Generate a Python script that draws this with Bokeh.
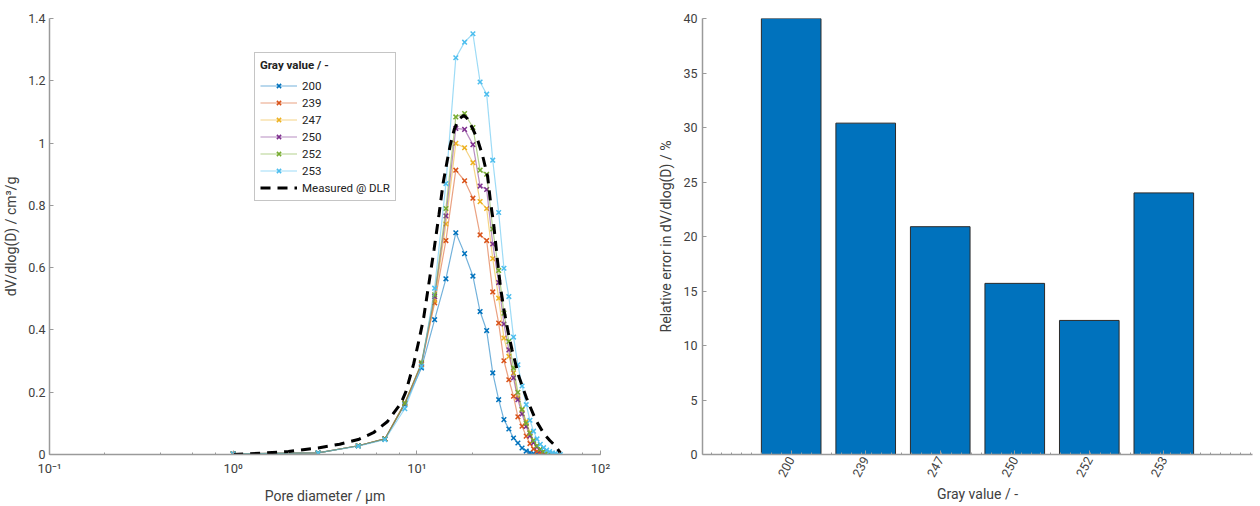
import math
from bokeh.plotting import figure
from bokeh.layouts import row
from bokeh.models import (LogTicker, FixedTicker, CustomJSTickFormatter, Range1d,
                          Legend, LegendItem)
from bokeh.embed import file_html
from bokeh.resources import INLINE

# ---------------- data ----------------
diameters = [1.0, 2.9, 4.8, 6.7, 8.6, 10.6, 12.5, 14.4, 16.3, 18.2, 20.2, 22.1,
             24.0, 25.9, 27.9, 29.8, 31.7, 33.6, 35.5, 37.4, 39.4, 41.3, 43.2,
             45.1, 47.0, 49.0, 50.9, 52.8, 54.7, 56.7, 58.6, 60.5]

gray_values = ["200", "239", "247", "250", "252", "253"]

dv_200 = [0.002, 0.005, 0.028, 0.050, 0.160, 0.278, 0.433, 0.564, 0.712, 0.645,
          0.573, 0.459, 0.398, 0.262, 0.176, 0.112, 0.082, 0.053, 0.037, 0.021,
          0.011, 0.006, 0.003, 0.002, 0.001, 0.0]
dv_239 = [0.002, 0.005, 0.028, 0.050, 0.165, 0.290, 0.487, 0.687, 0.913, 0.879,
          0.823, 0.705, 0.687, 0.522, 0.422, 0.301, 0.240, 0.187, 0.121, 0.091,
          0.059, 0.035, 0.018, 0.010, 0.005, 0.003, 0.001, 0.0]
dv_247 = [0.002, 0.005, 0.028, 0.050, 0.165, 0.290, 0.495, 0.740, 0.999, 0.985,
          0.937, 0.812, 0.790, 0.629, 0.502, 0.374, 0.315, 0.262, 0.182, 0.144,
          0.106, 0.070, 0.045, 0.028, 0.016, 0.009, 0.005, 0.002, 0.001]
dv_250 = [0.002, 0.005, 0.028, 0.050, 0.165, 0.292, 0.507, 0.766, 1.047, 1.044,
          0.995, 0.862, 0.851, 0.676, 0.552, 0.419, 0.336, 0.246, 0.176, 0.130,
          0.090, 0.060, 0.038, 0.024, 0.014, 0.008, 0.004, 0.002, 0.001]
dv_252 = [0.002, 0.005, 0.028, 0.050, 0.165, 0.295, 0.513, 0.790, 1.084, 1.095,
          1.050, 0.913, 0.900, 0.724, 0.591, 0.454, 0.363, 0.278, 0.200, 0.145,
          0.100, 0.068, 0.045, 0.028, 0.017, 0.010, 0.005, 0.002, 0.001]
dv_253 = [0.002, 0.005, 0.027, 0.048, 0.147, 0.283, 0.534, 0.870, 1.274, 1.324,
          1.351, 1.196, 1.157, 0.945, 0.777, 0.598, 0.507, 0.377, 0.288, 0.220,
          0.160, 0.110, 0.075, 0.050, 0.033, 0.022, 0.014, 0.009, 0.005, 0.003,
          0.001, 0.0]
series = [dv_200, dv_239, dv_247, dv_250, dv_252, dv_253]

meas_d = [1.0, 1.5, 2.0, 2.9, 3.8, 4.8, 5.8, 6.9, 8.2, 8.7, 9.6, 10.3, 10.9, 11.5,
          12.4, 13.2, 13.9, 14.6, 15.2, 16.0, 16.9, 18.0, 18.8, 20.0, 21.3, 22.8,
          24.3, 25.2, 26.2, 27.4, 28.5, 29.9, 31.5, 33.0, 35.9, 39.5, 44.3, 49.1,
          53.0, 56.9, 60.5]
meas_v = [0.0, 0.005, 0.010, 0.021, 0.033, 0.048, 0.070, 0.105, 0.165, 0.200,
          0.290, 0.370, 0.440, 0.530, 0.657, 0.770, 0.871, 0.940, 0.993, 1.045,
          1.076, 1.089, 1.079, 1.050, 1.015, 0.960, 0.892, 0.810, 0.740, 0.630,
          0.540, 0.460, 0.390, 0.336, 0.251, 0.182, 0.112, 0.067, 0.045, 0.027,
          0.005]

rel_error = [40.0, 30.4, 20.9, 15.7, 12.3, 24.0]

colors = ["#0072BD", "#D95319", "#EDB120", "#7E2F8E", "#77AC30", "#4DBEEE"]

# ---------------- styling ----------------
FONT = "Roboto"
AXIS_COL = "#9a9a9a"
TEXT_COL = "#404040"


def style_axis(ax, minor=False):
    ax.axis_line_color = AXIS_COL
    ax.axis_line_width = 1.5
    ax.major_tick_line_color = AXIS_COL
    ax.major_tick_in = 4
    ax.major_tick_out = 0
    if minor:
        ax.minor_tick_line_color = AXIS_COL
        ax.minor_tick_in = 2
        ax.minor_tick_out = 0
    else:
        ax.minor_tick_line_color = None
    ax.major_label_text_font = FONT
    ax.major_label_text_font_size = "12.5px"
    ax.major_label_text_color = TEXT_COL
    ax.axis_label_text_font = FONT
    ax.axis_label_text_font_size = "14px"
    ax.axis_label_text_font_style = "normal"
    ax.axis_label_text_color = TEXT_COL


# ---------------- left: pore size distribution ----------------
p1 = figure(width=620, height=506, x_axis_type="log",
            x_range=Range1d(0.1, 100), y_range=Range1d(0, 1.4),
            output_backend="svg", toolbar_location=None,
            min_border_left=49, min_border_right=20,
            min_border_top=18, min_border_bottom=51)
p1.outline_line_color = None
p1.grid.visible = False

p1.xaxis.ticker = LogTicker(mantissas=[1], desired_num_ticks=4)
p1.xaxis.formatter = CustomJSTickFormatter(code="""
const e = Math.round(Math.log10(tick));
const sup = {'-':'\u207b','0':'\u2070','1':'\u00b9','2':'\u00b2','3':'\u00b3'};
return '10' + String(e).split('').map(c => sup[c]).join('');
""")
p1.yaxis.ticker = FixedTicker(ticks=[0, 0.2, 0.4, 0.6, 0.8, 1.0, 1.2, 1.4])
p1.yaxis.formatter = CustomJSTickFormatter(code="return String(Math.round(tick*10)/10);")
style_axis(p1.xaxis[0], minor=True)
style_axis(p1.yaxis[0], minor=False)
p1.xaxis.major_label_text_font_size = "13px"
p1.xaxis.major_label_standoff = 6
p1.xaxis.axis_label_standoff = 9
p1.yaxis.major_label_standoff = 4
p1.yaxis.axis_label_standoff = 6
p1.xaxis.axis_label = "Pore diameter / µm"
p1.yaxis.axis_label = "dV/dlog(D) / cm³/g"

items = []
for name, vals, col in zip(gray_values, series, colors):
    xs = diameters[:len(vals)]
    lr = p1.line(xs, vals, line_color=col, line_width=1.2, line_alpha=0.55)
    sr = p1.scatter(xs, vals, marker="x", size=6.5, line_color=col, line_width=1.5)
    items.append(LegendItem(label=name, renderers=[lr, sr]))
mr = p1.line(meas_d, meas_v, line_color="black", line_width=3, line_dash="10 7")
items.append(LegendItem(label="Measured @ DLR", renderers=[mr]))

legend = Legend(items=items, location=(205, 253), title="Gray value / -",
                title_text_font=FONT, title_text_font_style="bold",
                title_text_font_size="11.5px", title_text_color="#222222",
                title_text_align="center",
                label_text_font=FONT, label_text_font_size="11.5px",
                label_text_color="#222222",
                glyph_width=37, glyph_height=15, label_height=15,
                spacing=2, padding=5, margin=0, label_standoff=5,
                title_standoff=6, border_line_color="#8c8c8c",
                border_line_width=1, background_fill_alpha=1)
p1.add_layout(legend)

# ---------------- right: relative error bars ----------------
positions = list(range(1, len(gray_values) + 1))
p2 = figure(width=640, height=506,
            x_range=Range1d(positions[0] - 1.19, positions[-1] + 1.19),
            y_range=Range1d(0, 40),
            output_backend="svg", toolbar_location=None,
            min_border_left=82, min_border_right=8,
            min_border_top=18, min_border_bottom=51)
p2.outline_line_color = None
p2.grid.visible = False

p2.vbar(x=positions, top=rel_error, width=0.8, fill_color="#0072BD",
        line_color="#2b2b2b", line_width=1)

minor = []
t = positions[0] - 1.19 + 0.12
while t < positions[-1] + 1.19:
    minor.append(round(t, 3))
    t += 0.134
p2.xaxis.ticker = FixedTicker(ticks=positions, minor_ticks=minor)
p2.xaxis.major_label_overrides = {pos: g for pos, g in zip(positions, gray_values)}
p2.xaxis.major_label_orientation = math.radians(62)
p2.yaxis.ticker = FixedTicker(ticks=list(range(0, 41, 5)))
style_axis(p2.xaxis[0], minor=True)
style_axis(p2.yaxis[0], minor=False)
p2.xaxis.major_label_standoff = 3
p2.xaxis.axis_label_standoff = 3
p2.yaxis.major_label_standoff = 5
p2.yaxis.axis_label_standoff = 6
p2.xaxis.axis_label = "Gray value / -"
p2.yaxis.axis_label = "Relative error in dV/dlog(D) / %"

layout = row(p1, p2)
open("out.html", "w").write(file_html(layout, INLINE))
